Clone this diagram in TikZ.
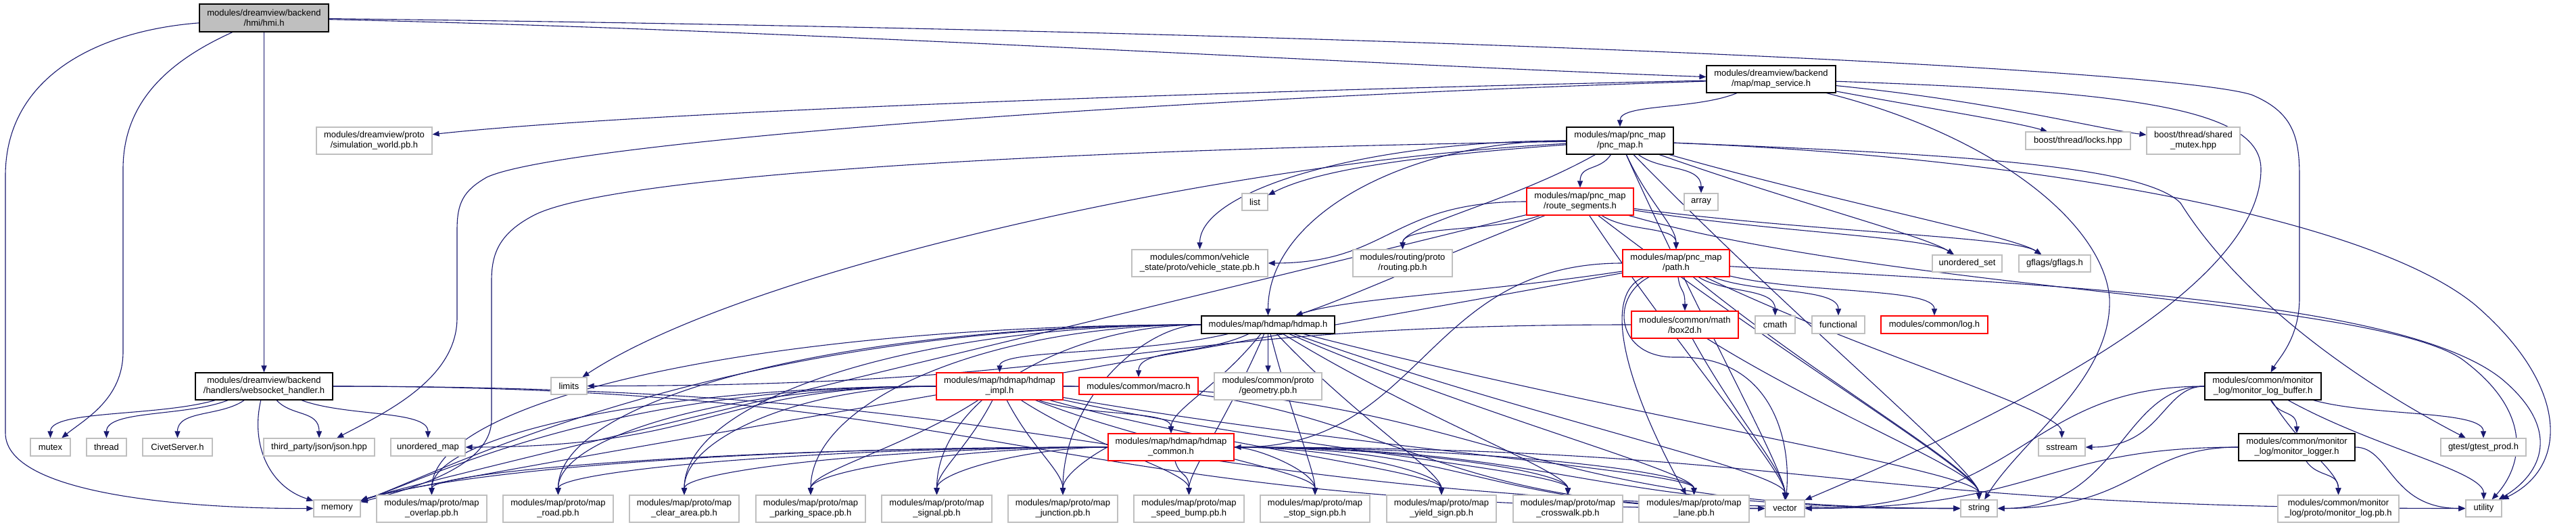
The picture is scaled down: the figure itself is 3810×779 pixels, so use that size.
\documentclass[tikz,border=0pt]{standalone}
\usepackage{fontspec}
\setmainfont{Liberation Sans}
\usetikzlibrary{arrows.meta,calc}
\definecolor{lgrey}{RGB}{191,191,191}
\definecolor{edgeblue}{RGB}{25,25,112}
\pgfdeclarelayer{bg}
\pgfsetlayers{bg,main}
\tikzset{
 nbase/.style={rectangle, line width=1.2pt, fill=white, inner sep=0pt, align=center, font=\fontsize{13}{15}\selectfont},
 leaf/.style={nbase, draw=lgrey},
 doc/.style={nbase, draw=black},
 trunc/.style={nbase, draw=red},
 root/.style={nbase, draw=black, fill=lgrey},
 arr/.style={draw=edgeblue, line width=1.1pt, -{Triangle[length=10pt,width=8pt]}},
}
\newcommand\N[7]{\node[#6, minimum width=#4pt, minimum height=#5pt] (#1) at (#2,#3) {#7};}
% generic: toward target, enter from top
\newcommand\edT[2]{\draw[arr] (#1) .. controls ($(#1)!0.5!(#2)$) and ($(#2)+(0,-55)$) .. (#2);}
% enter at top-right corner
\newcommand\edR[2]{\draw[arr] (#1) .. controls ($(#1)!0.5!(#2)$) and ($(#2)+(120,-40)$) .. (#2);}
% enter at top-left corner
\newcommand\edQ[2]{\draw[arr] (#1) .. controls ($(#1)!0.5!(#2)$) and ($(#2)+(-60,-40)$) .. (#2);}
% leave sideways, enter from top
\newcommand\edS[2]{\draw[arr] (#1) .. controls ($(#1)!0.6!(#1 -| #2)$) and ($(#2)!0.6!(#2 |- #1)$) .. (#2);}
% leave sideways, enter sideways
\newcommand\edH[2]{\draw[arr] (#1) .. controls ($(#1)!0.5!(#1 -| #2)$) and ($(#2)!0.5!(#2 -| #1)$) .. (#2);}
% leave sideways, enter top-right corner (for memory)
\newcommand\edM[2]{\draw[arr] (#1) .. controls ($(#1)!0.6!(#1 -| #2)$) and ($(#2)+(140,-45)$) .. (#2);}
\begin{document}
\begin{tikzpicture}[x=1pt,y=-1pt]
\useasboundingbox (0,0) rectangle (3810,779);
% nodes
\N{hmi}{390.5}{26.5}{191}{41}{root}{modules/dreamview/backend\\/hmi/hmi.h}
\N{mapsvc}{2619.5}{117}{191}{40}{doc}{modules/dreamview/backend\\/map/map\_service.h}
\N{simworld}{553.5}{208}{171}{40}{leaf}{modules/dreamview/proto\\/simulation\_world.pb.h}
\N{pncmap}{2396}{208}{158}{40}{doc}{modules/map/pnc\_map\\/pnc\_map.h}
\N{locks}{3073.5}{208}{155}{26}{leaf}{boost/thread/locks.hpp}
\N{shmutex}{3244}{208}{138}{40}{leaf}{boost/thread/shared\\\_mutex.hpp}
\N{list}{1856}{298.5}{38}{25}{leaf}{list}
\N{rseg}{2337}{298}{158}{40}{trunc}{modules/map/pnc\_map\\/route\_segments.h}
\N{array}{2516}{298.5}{50}{25}{leaf}{array}
\N{vstate}{1774.5}{389}{201}{40}{leaf}{modules/common/vehicle\\\_state/proto/vehicle\_state.pb.h}
\N{routing}{2074.5}{389}{147}{40}{leaf}{modules/routing/proto\\/routing.pb.h}
\N{path}{2479}{389}{158}{40}{trunc}{modules/map/pnc\_map\\/path.h}
\N{uset}{2909.5}{389.5}{103}{25}{leaf}{unordered\_set}
\N{gflags}{3039}{389.5}{106}{25}{leaf}{gflags/gflags.h}
\N{hdmap}{1875.5}{480}{197}{26}{doc}{modules/map/hdmap/hdmap.h}
\N{box2d}{2492}{480}{158}{40}{trunc}{modules/common/math\\/box2d.h}
\N{cmath}{2625.5}{480}{59}{26}{leaf}{cmath}
\N{functional}{2719}{480}{78}{26}{leaf}{functional}
\N{log}{2861}{480}{158}{26}{trunc}{modules/common/log.h}
\N{websocket}{390.5}{571}{203}{40}{doc}{modules/dreamview/backend\\/handlers/websocket\_handler.h}
\N{limits}{841.5}{570.5}{53}{25}{leaf}{limits}
\N{himpl}{1478.5}{571}{187}{40}{trunc}{modules/map/hdmap/hdmap\\\_impl.h}
\N{macro}{1684}{570.5}{176}{25}{trunc}{modules/common/macro.h}
\N{geometry}{1875.5}{571}{159}{40}{leaf}{modules/common/proto\\/geometry.pb.h}
\N{mlb}{3347}{571}{172}{40}{doc}{modules/common/monitor\\\_log/monitor\_log\_buffer.h}
\N{mutex}{74.5}{661}{59}{26}{leaf}{mutex}
\N{thread}{157.5}{661}{59}{26}{leaf}{thread}
\N{civet}{262.5}{661}{103}{26}{leaf}{CivetServer.h}
\N{json}{472}{661}{164}{26}{leaf}{third\_party/json/json.hpp}
\N{umap}{633}{661}{110}{26}{leaf}{unordered\_map}
\N{hcommon}{1732}{661}{186}{40}{trunc}{modules/map/hdmap/hdmap\\\_common.h}
\N{sstream}{3049.5}{661}{69}{26}{leaf}{sstream}
\N{mlogger}{3397}{661}{172}{40}{doc}{modules/common/monitor\\\_log/monitor\_logger.h}
\N{gtest}{3673}{661}{126}{26}{leaf}{gtest/gtest\_prod.h}
\N{memory}{498.5}{751.5}{69}{25}{leaf}{memory}
\N{overlap}{638.5}{752}{163}{40}{leaf}{modules/map/proto/map\\\_overlap.pb.h}
\N{road}{825.5}{752}{163}{40}{leaf}{modules/map/proto/map\\\_road.pb.h}
\N{clear}{1012}{752}{162}{40}{leaf}{modules/map/proto/map\\\_clear\_area.pb.h}
\N{parking}{1199}{752}{162}{40}{leaf}{modules/map/proto/map\\\_parking\_space.pb.h}
\N{signal}{1385.5}{752}{163}{40}{leaf}{modules/map/proto/map\\\_signal.pb.h}
\N{junction}{1572}{752}{162}{40}{leaf}{modules/map/proto/map\\\_junction.pb.h}
\N{speedbump}{1758.5}{752}{163}{40}{leaf}{modules/map/proto/map\\\_speed\_bump.pb.h}
\N{stopsign}{1945}{752}{162}{40}{leaf}{modules/map/proto/map\\\_stop\_sign.pb.h}
\N{yieldsign}{2132}{752}{162}{40}{leaf}{modules/map/proto/map\\\_yield\_sign.pb.h}
\N{crosswalk}{2319}{752}{162}{40}{leaf}{modules/map/proto/map\\\_crosswalk.pb.h}
\N{lane}{2505.5}{752}{163}{40}{leaf}{modules/map/proto/map\\\_lane.pb.h}
\N{vector}{2640}{751.5}{58}{25}{leaf}{vector}
\N{string}{2927}{751.5}{54}{25}{leaf}{string}
\N{mlogpb}{3458.5}{752}{179}{40}{leaf}{modules/common/monitor\\\_log/proto/monitor\_log.pb.h}
\N{utility}{3673.5}{751.5}{53}{25}{leaf}{utility}
\begin{pgfonlayer}{bg}
\fill[white] (0,0) rectangle (3810,779);
% hmi
\draw[arr] (hmi) .. controls (150,45) and (8,110) .. (8,260) -- (8,640) .. controls (8,735) and (300,752) .. (memory);
\draw[arr] (hmi) .. controls (250,90) and (182,150) .. (182,250) -- (182,520) .. controls (182,590) and (125,620) .. (mutex);
\draw[arr] (hmi) -- (websocket);
\draw[arr] (hmi) .. controls (1200,45) and (2000,95) .. (mapsvc);
\draw[arr] (hmi) .. controls (2000,45) and (3200,100) .. (3330,140) .. controls (3390,165) and (3401,200) .. (3401,260) -- (3401,440) .. controls (3401,500) and (3370,530) .. (mlb);
% websocket
\edT{websocket}{mutex}\edT{websocket}{thread}\edT{websocket}{civet}
\draw[arr] (websocket) .. controls (370,660) and (400,720) .. (memory);
\edT{websocket}{json}\edT{websocket}{umap}\edH{websocket}{string}\edH{websocket}{vector}
% map service
\draw[arr] (mapsvc) .. controls (1800,135) and (950,165) .. (simworld);
\draw[arr] (mapsvc) .. controls (1600,150) and (820,215) .. (720,262) .. controls (685,282) and (676,300) .. (676,340) -- (676,470) .. controls (676,560) and (570,610) .. (json);
\draw[arr] (mapsvc) .. controls (2950,200) and (3110,330) .. (3120,440) .. controls (3125,560) and (2990,650) .. (string);
\draw[arr] (mapsvc) .. controls (3150,135) and (3344,160) .. (3344,250) .. controls (3344,420) and (3000,600) .. (vector);
\draw[arr] (mapsvc) .. controls (2950,150) and (3100,190) .. (shmutex);
\draw[arr] (mapsvc) .. controls (2850,160) and (2980,180) .. (locks);
\edT{mapsvc}{pncmap}
% pnc_map
\draw[arr] (pncmap) .. controls (1500,222) and (900,262) .. (790,318) .. controls (738,345) and (727,375) .. (727,415) -- (727,620) .. controls (727,690) and (610,722) .. (memory);
\draw[arr] (pncmap) .. controls (2900,228) and (3170,245) .. (3225,300) .. controls (3300,420) and (3450,545) .. (gtest);
\draw[arr] (pncmap) .. controls (3000,232) and (3500,320) .. (3660,450) .. controls (3800,570) and (3800,690) .. (utility);
\draw[arr] (pncmap) .. controls (2100,230) and (1950,250) .. (list);
\draw[arr] (pncmap) .. controls (1800,240) and (1100,400) .. (limits);
\edS{pncmap}{vstate}\edS{pncmap}{hdmap}\edT{pncmap}{rseg}
\edT{pncmap}{routing}\edT{pncmap}{path}\edT{pncmap}{array}\edQ{pncmap}{uset}\edQ{pncmap}{gflags}
\edT{pncmap}{string}\edT{pncmap}{vector}
% route segments
\draw[arr] (rseg) .. controls (2800,430) and (3500,440) .. (3640,530) .. controls (3750,610) and (3730,690) .. (utility);
\edH{rseg}{vstate}\edT{rseg}{routing}\edT{rseg}{path}\edR{rseg}{hdmap}\edR{rseg}{memory}
\edT{rseg}{string}\edT{rseg}{vector}\edQ{rseg}{uset}\edQ{rseg}{gflags}
% path
\draw[arr] (path) .. controls (3000,420) and (3550,440) .. (3700,560) .. controls (3790,635) and (3760,700) .. (utility);
\draw[arr] (path) .. controls (2360,440) and (2420,600) .. (lane);
\draw[arr] (path) .. controls (2380,440) and (2390,530) .. (2480,528) .. controls (2620,525) and (2650,650) .. (vector);
\edR{path}{hdmap}\edH{path}{hcommon}\edT{path}{box2d}\edT{path}{cmath}\edT{path}{functional}
\edT{path}{log}\edR{path}{memory}\edT{path}{string}\edT{path}{sstream}
% box2d
\edH{box2d}{limits}\edT{box2d}{string}\edT{box2d}{vector}
% hdmap family
\edT{hdmap}{himpl}\edT{hdmap}{macro}\edT{hdmap}{geometry}\edT{hdmap}{hcommon}\edM{hdmap}{memory}
\edT{hdmap}{string}\edT{hdmap}{vector}
\foreach \t in {overlap,road,clear,parking,signal,junction}{\edS{hdmap}{\t}}
\foreach \t in {speedbump,stopsign,yieldsign,crosswalk,lane}{\edT{hdmap}{\t}}
\edT{himpl}{hcommon}\edM{himpl}{memory}\edH{himpl}{umap}\edH{himpl}{string}\edH{himpl}{vector}
\foreach \t in {overlap,road,clear}{\edS{himpl}{\t}}
\foreach \t in {parking,signal,junction,speedbump,stopsign,yieldsign,crosswalk,lane}{\edT{himpl}{\t}}
\edM{hcommon}{memory}\edH{hcommon}{string}\edH{hcommon}{vector}\edH{hcommon}{utility}
\foreach \t in {overlap,road,clear,parking,signal,junction,stopsign,yieldsign,crosswalk,lane}{\edS{hcommon}{\t}}
\edT{hcommon}{speedbump}
% monitor log
\edT{mlb}{mlogger}\edT{mlb}{mlogpb}\edT{mlb}{utility}\edT{mlb}{gtest}\edH{mlb}{sstream}
\edH{mlb}{string}\edH{mlb}{vector}
\edT{mlogger}{mlogpb}\edH{mlogger}{utility}\edH{mlogger}{string}\edH{mlogger}{vector}
\end{pgfonlayer}
\end{tikzpicture}
\end{document}
